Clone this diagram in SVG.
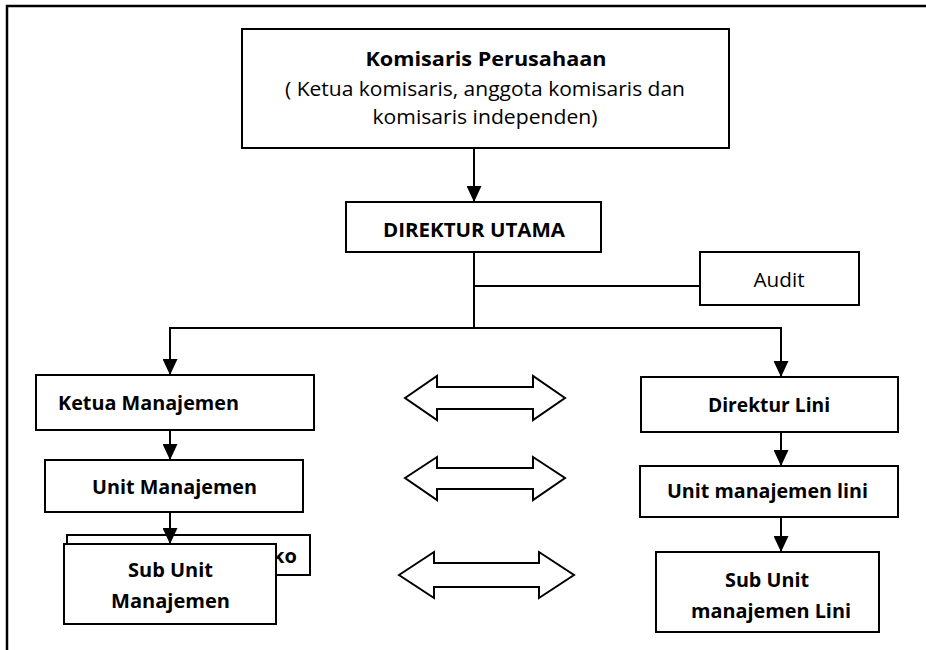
<svg xmlns="http://www.w3.org/2000/svg" width="926" height="650" viewBox="0 0 926 650">
<defs>
<style>
.box{fill:#fff;stroke:#000;stroke-width:2}
.conn{fill:none;stroke:#000;stroke-width:2}
.dbl{fill:#fff;stroke:#000;stroke-width:2;stroke-linejoin:miter}
.b{font-family:"Open Sans",Lato,"Liberation Sans",sans-serif;font-weight:bold;font-size:20px;fill:#000;text-anchor:middle}
.r{font-family:"Open Sans",Lato,"Liberation Sans",sans-serif;font-size:20px;fill:#000;text-anchor:middle}
</style>
<marker id="ah" markerUnits="userSpaceOnUse" markerWidth="16" markerHeight="15" refX="16" refY="7.5" orient="auto">
<path d="M0,0 L16,7.5 L0,15 z" fill="#000"/>
</marker>
</defs>
<rect width="926" height="650" fill="#fff"/>
<g id="frame">
<path d="M7,650 V6 H926" fill="none" stroke="#000" stroke-width="2.5"/>
</g>
<g id="komisaris">
<rect class="box" x="242" y="29" width="487" height="119"/>
<text class="b" x="486" y="66" textLength="241" lengthAdjust="spacingAndGlyphs">Komisaris Perusahaan</text>
<text class="r" x="485" y="96" textLength="400" lengthAdjust="spacingAndGlyphs">( Ketua komisaris, anggota komisaris dan</text>
<text class="r" x="485" y="124" textLength="225" lengthAdjust="spacingAndGlyphs">komisaris independen)</text>
</g>
<g id="direktur-utama">
<rect class="box" x="346" y="202" width="255" height="50"/>
<text class="b" x="474" y="237" textLength="182" lengthAdjust="spacingAndGlyphs">DIREKTUR UTAMA</text>
</g>
<g id="audit">
<rect class="box" x="700" y="252" width="159" height="53"/>
<text class="r" x="779" y="287" textLength="51" lengthAdjust="spacingAndGlyphs">Audit</text>
</g>
<g id="ketua-manajemen">
<rect class="box" x="36" y="375" width="278" height="55"/>
<text class="b" x="148.5" y="410" textLength="181" lengthAdjust="spacingAndGlyphs">Ketua Manajemen</text>
</g>
<g id="unit-manajemen">
<rect class="box" x="45" y="460" width="258" height="52"/>
<text class="b" x="174.5" y="494" textLength="165" lengthAdjust="spacingAndGlyphs">Unit Manajemen</text>
</g>
<g id="back-box">
<rect class="box" x="67" y="535" width="243" height="40"/>
<text class="b" x="272" y="563" style="text-anchor:start">ko</text>
</g>
<g id="sub-unit-manajemen">
<rect class="box" x="64" y="544" width="212" height="80"/>
<text class="b" x="170.5" y="577" textLength="85" lengthAdjust="spacingAndGlyphs">Sub Unit</text>
<text class="b" x="170.5" y="608" textLength="119" lengthAdjust="spacingAndGlyphs">Manajemen</text>
</g>
<g id="direktur-lini">
<rect class="box" x="641" y="377" width="257" height="55"/>
<text class="b" x="769" y="412" textLength="122" lengthAdjust="spacingAndGlyphs">Direktur Lini</text>
</g>
<g id="unit-manajemen-lini">
<rect class="box" x="640" y="466" width="258" height="51"/>
<text class="b" x="767.5" y="498" textLength="201" lengthAdjust="spacingAndGlyphs">Unit manajemen lini</text>
</g>
<g id="sub-unit-manajemen-lini">
<rect class="box" x="656" y="552" width="223" height="80"/>
<text class="b" x="767" y="587" textLength="84" lengthAdjust="spacingAndGlyphs">Sub Unit</text>
<text class="b" x="771" y="618" textLength="160" lengthAdjust="spacingAndGlyphs">manajemen Lini</text>
</g>
<g id="double-arrows">
<path class="dbl" d="M405,398 L437,376 V387 H533 V376 L565,398 L533,420 V409 H437 V420 Z"/>
<path class="dbl" d="M405,478 L437,457 V468 H533 V457 L565,478 L533,500 V489 H437 V500 Z"/>
<path class="dbl" d="M399,575 L434,552 V563 H539 V552 L574,575 L539,598 V587 H434 V598 Z"/>
</g>
<g id="connectors">
<line class="conn" x1="474" y1="148" x2="474" y2="202" marker-end="url(#ah)"/>
<line class="conn" x1="474" y1="252" x2="474" y2="329"/>
<line class="conn" x1="474" y1="286" x2="700" y2="286"/>
<path class="conn" d="M170,375 V328 H781 V377"/>
<line class="conn" x1="170" y1="340" x2="170" y2="375" marker-end="url(#ah)"/>
<line class="conn" x1="781" y1="340" x2="781" y2="377" marker-end="url(#ah)"/>
<line class="conn" x1="170" y1="430" x2="170" y2="460" marker-end="url(#ah)"/>
<line class="conn" x1="170" y1="512" x2="170" y2="544" marker-end="url(#ah)"/>
<line class="conn" x1="781" y1="432" x2="781" y2="466" marker-end="url(#ah)"/>
<line class="conn" x1="781" y1="517" x2="781" y2="552" marker-end="url(#ah)"/>
</g>
</svg>
